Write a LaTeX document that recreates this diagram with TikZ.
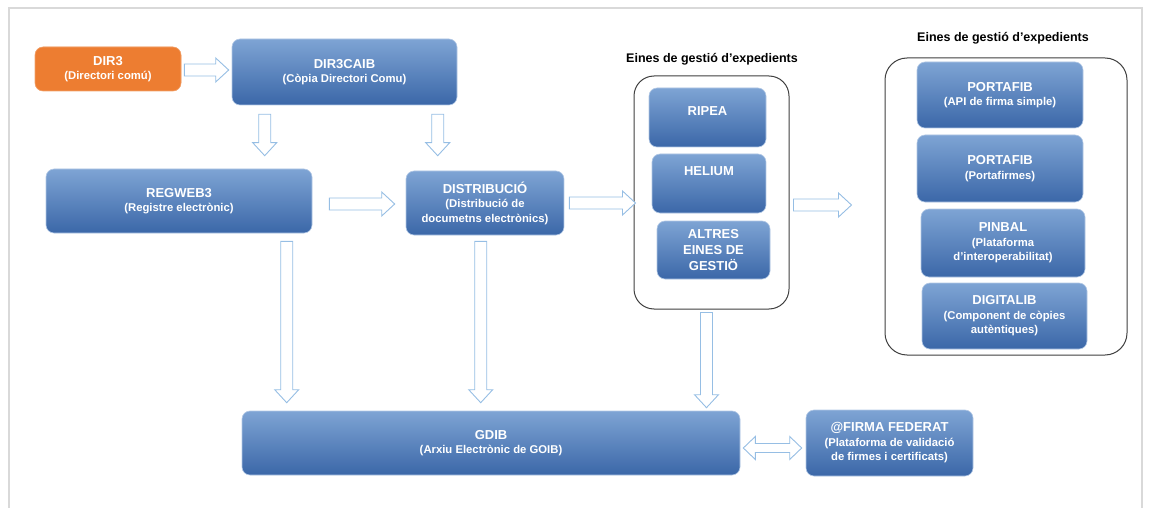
\documentclass[tikz,border=0pt]{standalone}
\usepackage{fontspec}
\setmainfont{Liberation Sans}
\usetikzlibrary{calc}

\definecolor{boxtop}{RGB}{126,164,212}
\definecolor{boxbot}{RGB}{59,103,168}
\definecolor{dirorange}{RGB}{237,125,49}
\definecolor{arrowline}{RGB}{150,190,228}
\definecolor{framegray}{RGB}{217,217,217}

\newcommand{\subt}[1]{{\fontsize{11.3}{14.5}\selectfont #1}}

\tikzset{
  bluebox/.style={rounded corners=8pt, top color=boxtop, bottom color=boxbot,
    draw=boxtop!60!white, line width=0.6pt, text=white, align=center,
    font=\fontsize{13}{14.5}\selectfont\bfseries},
  orangebox/.style={bluebox, fill=dirorange, top color=dirorange, bottom color=dirorange,
    draw=dirorange!70!white},
  boxlabel/.style={anchor=center, text=white, font=\fontsize{13}{14.5}\selectfont\bfseries},
  groupbox/.style={rounded corners=20pt, draw=black!75, line width=1pt, fill=white},
  grouptitle/.style={font=\fontsize{12.5}{15}\selectfont\bfseries, text=black},
  blockarrow/.style={draw=arrowline, fill=white, line width=0.9pt, line join=miter,
    to path={let \p1=(\tikztostart), \p2=(\tikztotarget),
      \n1={atan2(\y2-\y1,\x2-\x1)}, \p3=($(\p2)!13pt!(\p1)$) in
      ($(\p1)+({\n1+90}:6pt)$) -- ($(\p3)+({\n1+90}:6pt)$) -- ($(\p3)+({\n1+90}:12pt)$)
      -- (\p2) -- ($(\p3)+({\n1-90}:12pt)$) -- ($(\p3)+({\n1-90}:6pt)$)
      -- ($(\p1)+({\n1-90}:6pt)$) -- cycle}},
  doublearrow/.style={draw=arrowline, fill=white, line width=0.9pt, line join=miter,
    to path={let \p1=(\tikztostart), \p2=(\tikztotarget),
      \n1={atan2(\y2-\y1,\x2-\x1)}, \p3=($(\p2)!12pt!(\p1)$), \p4=($(\p1)!12pt!(\p2)$) in
      (\p1) -- ($(\p4)+({\n1+90}:11.5pt)$) -- ($(\p4)+({\n1+90}:4.5pt)$)
      -- ($(\p3)+({\n1+90}:4.5pt)$) -- ($(\p3)+({\n1+90}:11.5pt)$) -- (\p2)
      -- ($(\p3)+({\n1-90}:11.5pt)$) -- ($(\p3)+({\n1-90}:4.5pt)$)
      -- ($(\p4)+({\n1-90}:4.5pt)$) -- ($(\p4)+({\n1-90}:11.5pt)$) -- cycle}}
}

\begin{document}
\begin{tikzpicture}[x=1pt,y=-1pt]
    \useasboundingbox (0,0) rectangle (1149,508);

    % Draw the outer frame
    \draw[framegray, line width=1.2pt] (9,508) -- (9,8) -- (1142,8) -- (1142,508);

    % Draw the two groups of tools
    \node[groupbox, minimum width=155pt, minimum height=233pt] (grp1) at (711.5,192.5) {};
    \node[grouptitle] (title1) at (712,59) {Eines de gestió d’expedients};
    \node[groupbox, rounded corners=22pt, minimum width=242pt, minimum height=297pt] (grp2) at (1006,206.5) {};
    \node[grouptitle] (title2) at (1003,38) {Eines de gestió d’expedients};

    % Left part of the diagram
    \node[orangebox, minimum width=146pt, minimum height=44pt] (dir3) at (108,69) {DIR3\\\subt{(Directori comú)}};
    \node[bluebox, minimum width=225pt, minimum height=66pt] (dir3caib) at (344.5,72) {DIR3CAIB\\\subt{(Còpia Directori Comu)}};
    \node[bluebox, minimum width=266pt, minimum height=64pt] (regweb3) at (179,201) {REGWEB3\\\subt{(Registre electrònic)}};
    \node[bluebox, minimum width=158pt, minimum height=64pt] (distrib) at (485,203) {DISTRIBUCIÓ\\\subt{(Distribució de}\\\subt{documetns electrònics)}};

    % Boxes inside the first group
    \node[bluebox, minimum width=117pt, minimum height=59pt, label={[boxlabel, yshift=-23pt]north:RIPEA}] (ripea) at (707.5,117.5) {};
    \node[bluebox, minimum width=114pt, minimum height=59pt, label={[boxlabel, yshift=-17pt]north:HELIUM}] (helium) at (709,183.5) {};
    \node[bluebox, minimum width=113pt, minimum height=58pt, font=\fontsize{13}{16}\selectfont\bfseries] (altres) at (713.5,250) {ALTRES\\EINES DE\\GESTIÖ};

    % Boxes inside the second group
    \node[bluebox, minimum width=166pt, minimum height=66pt] (portafib1) at (1000,95) {PORTAFIB\\\subt{(API de firma simple)}};
    \node[bluebox, minimum width=166pt, minimum height=67pt] (portafib2) at (1000,168.5) {PORTAFIB\\\subt{(Portafirmes)}};
    \node[bluebox, minimum width=164pt, minimum height=68pt] (pinbal) at (1003,243) {PINBAL\\\subt{(Plataforma}\\\subt{d’interoperabilitat)}};
    \node[bluebox, minimum width=165pt, minimum height=66pt] (digitalib) at (1004.5,316) {DIGITALIB\\\subt{(Component de còpies}\\\subt{autèntiques)}};

    % Bottom row
    \node[bluebox, minimum width=498pt, minimum height=64pt] (gdib) at (491,443) {GDIB\\\subt{(Arxiu Electrònic de GOIB)}};
    \node[bluebox, minimum width=167pt, minimum height=66pt] (firma) at (889.5,443) {@FIRMA FEDERAT\\\subt{(Plataforma de validació}\\\subt{de firmes i certificats)}};

    % Draw arrows
    \draw[blockarrow] ($(dir3.east)+(3,1)$) to ($(dir3caib.west |- dir3.east)+(-3,1)$);
    \draw[blockarrow] ($(dir3caib.south west)+(33,9)$) to ($(dir3caib.south west |- regweb3.north)+(33,-13)$);
    \draw[blockarrow] ($(dir3caib.south west)+(206,9)$) to ($(dir3caib.south west |- regweb3.north)+(206,-13)$);
    \draw[blockarrow] ($(regweb3.east)+(17,3)$) to ($(distrib.west |- regweb3.east)+(-11,3)$);
    \draw[blockarrow] ($(distrib.east)+(5,0)$) to ($(grp1.west |- distrib.east)+(2,0)$);
    \draw[blockarrow] ($(grp1.east)+(4,12.5)$) to ($(grp2.west |- grp1.east)+(-33,12.5)$);
    \draw[blockarrow] ($(regweb3.south west)+(241,8)$) to ($(regweb3.south west |- gdib.north)+(241,-8)$);
    \draw[blockarrow] ($(distrib.south west)+(75,6)$) to ($(distrib.south west |- gdib.north)+(75,-8)$);
    \draw[blockarrow] ($(grp1.south west)+(73,3)$) to ($(grp1.south west |- gdib.north)+(73,-3)$);
    \draw[doublearrow] ($(gdib.east)+(3,5)$) to ($(firma.west |- gdib.east)+(-4,5)$);
\end{tikzpicture}
\end{document}
